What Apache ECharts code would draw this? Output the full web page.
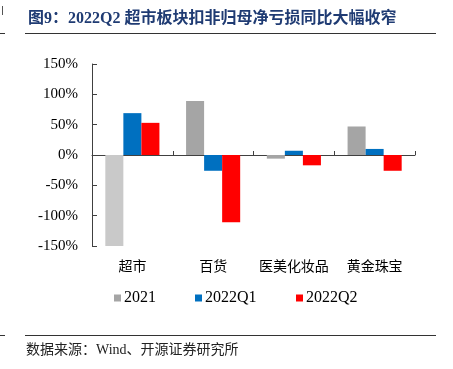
<!DOCTYPE html>
<html><head><meta charset="utf-8">
<script src="https://cdn.jsdelivr.net/npm/echarts@6/dist/echarts.min.js"></script>
<style>html,body{margin:0;padding:0;background:#fff}#c{width:453px;height:369px}</style>
</head><body><div id="c"></div>
<script>
const categories = ['超市', '百货', '医美化妆品', '黄金珠宝'];
const seriesNames = ['2021', '2022Q1', '2022Q2'];
const values2021 = [-152, 89, -6, 47];
const values2022Q1 = [69, -26, 7, 10];
const values2022Q2 = [53, -111, -17, -26];
const yTicks = { min: -150, max: 150, interval: 50 };
const titleText = '图9：2022Q2 超市板块扣非归母净亏损同比大幅收窄';
const sourceText = '数据来源：Wind、开源证券研究所';

const chart = echarts.init(document.getElementById('c'), null, { renderer: 'canvas' });
const serif = '"Liberation Serif", "Times New Roman", "Noto Sans CJK SC", serif';
const cjk = '"Noto Sans CJK SC", sans-serif';
const axisColor = '#404040';

chart.setOption({
  animation: false,
  backgroundColor: '#fff',
  grid: { left: 92, right: 38, top: 64, bottom: 123, containLabel: false },
  legend: [
    { data: [seriesNames[0]], left: 114, top: 290 },
    { data: [seriesNames[1]], left: 195, top: 290 },
    { data: [seriesNames[2]], left: 296, top: 290 }
  ].map(l => Object.assign(l, {
    icon: 'rect', itemWidth: 7, itemHeight: 7, itemGap: 0, padding: 0,
    textStyle: { fontFamily: serif, fontSize: 16, color: '#000', padding: [0, 0, 0, -2] }
  })),
  xAxis: [
    {
      type: 'category', data: categories, position: 'bottom',
      axisLine: { show: false, onZero: false }, axisTick: { show: false },
      axisLabel: { interval: 0, fontFamily: cjk, fontSize: 14, color: '#000', margin: 13 }
    },
    {
      type: 'category', data: categories, position: 'bottom',
      axisLine: { show: true, onZero: true, lineStyle: { color: axisColor, width: 1 } },
      axisTick: { show: true, inside: true, length: 4, interval: 0, lineStyle: { color: axisColor } },
      axisLabel: { show: false }
    }
  ],
  yAxis: {
    type: 'value', min: yTicks.min, max: yTicks.max, interval: yTicks.interval,
    axisLine: { show: true, lineStyle: { color: axisColor, width: 1 } },
    axisTick: { show: true, inside: true, length: 5, lineStyle: { color: axisColor } },
    splitLine: { show: false },
    axisLabel: { formatter: '{value}%', fontFamily: serif, fontSize: 15, color: '#000', margin: 14 }
  },
  series: [
    {
      name: seriesNames[0], type: 'bar', xAxisIndex: 0, barGap: 0, barCategoryGap: '33%',
      itemStyle: { color: '#A5A5A5' },
      data: values2021.map((v, i) => i === 0 ? { value: v, itemStyle: { color: '#C9C9C9' } } : v)
    },
    {
      name: seriesNames[1], type: 'bar', xAxisIndex: 0, barGap: 0, barCategoryGap: '33%',
      itemStyle: { color: '#0070C0' }, data: values2022Q1
    },
    {
      name: seriesNames[2], type: 'bar', xAxisIndex: 0, barGap: 0, barCategoryGap: '33%',
      itemStyle: { color: '#FF0000' }, data: values2022Q2
    }
  ],
  graphic: [
    { type: 'text', left: 28, top: 11, style: { text: titleText, font: 'bold 16px ' + serif, fill: '#1F3B73' } },
    { type: 'line', shape: { x1: 25, y1: 33.5, x2: 436, y2: 33.5 }, style: { stroke: '#333', lineWidth: 1 } },
    { type: 'line', shape: { x1: 0, y1: 33.5, x2: 5, y2: 33.5 }, style: { stroke: '#333', lineWidth: 1 } },
    { type: 'line', shape: { x1: 2.5, y1: 6, x2: 2.5, y2: 15 }, style: { stroke: '#555', lineWidth: 1 } },
    { type: 'line', shape: { x1: 25, y1: 335.5, x2: 436, y2: 335.5 }, style: { stroke: '#333', lineWidth: 1 } },
    { type: 'line', shape: { x1: 0, y1: 335.5, x2: 5, y2: 335.5 }, style: { stroke: '#333', lineWidth: 1 } },
    { type: 'text', left: 26, top: 343, style: { text: sourceText, font: '14px ' + serif, fill: '#222' } }
  ]
});
</script></body></html>
